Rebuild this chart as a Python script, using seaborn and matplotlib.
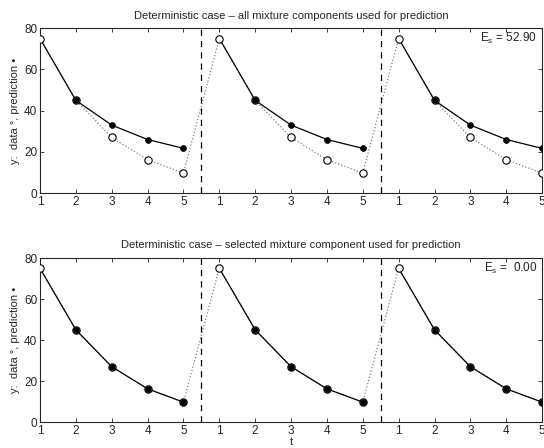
import numpy as np
import pandas as pd
import matplotlib
matplotlib.use("Agg")
import matplotlib.pyplot as plt
import seaborn as sns

# --- values ---
t_labels = [1, 2, 3, 4, 5]
n_segments = 3
data_y = [75, 45, 27, 16.2, 9.7]            # observed data (open circles)
pred_all = [75, 45, 33, 26, 21.7]           # all mixture components (t=1 starts at data)
pred_sel = [75, 45, 27, 16.2, 9.7]          # selected mixture component
titles = ["Deterministic case \u2013 all mixture components used for prediction",
          "Deterministic case \u2013 selected mixture component used for prediction"]
es_texts = ["$\\mathregular{E_s}$ = 52.90", "$\\mathregular{E_s}$ =  0.00"]
y_ticks = [0, 20, 40, 60, 80]

sns.set_style("ticks")
plt.rcParams["font.family"] = ["Liberation Sans", "DejaVu Sans"]
plt.rcParams["xtick.direction"] = "in"
plt.rcParams["ytick.direction"] = "in"


def build_frames(pred):
    rows_d, rows_p = [], []
    for s in range(n_segments):
        for i, t in enumerate(t_labels):
            x = s * len(t_labels) + t
            rows_d.append({"x": x, "y": data_y[i], "seg": s})
            rows_p.append({"x": x, "y": pred[i], "seg": s, "t": t})
    return pd.DataFrame(rows_d), pd.DataFrame(rows_p)


fig = plt.figure(figsize=(5.44, 4.48), dpi=100)
axes = [fig.add_axes([0.0735, 0.569, 0.923, 0.368]),
        fig.add_axes([0.0735, 0.058, 0.923, 0.366])]

for k, (ax, pred) in enumerate(zip(axes, [pred_all, pred_sel])):
    df_d, df_p = build_frames(pred)
    # dotted data line across all segments
    sns.lineplot(data=df_d, x="x", y="y", ax=ax, color="0.5", linestyle=":",
                 linewidth=0.9, estimator=None, sort=False)
    # solid prediction line within each segment
    sns.lineplot(data=df_p, x="x", y="y", units="seg", estimator=None, ax=ax,
                 color="black", linewidth=0.9, sort=False)
    # data open circles
    sns.scatterplot(data=df_d, x="x", y="y", ax=ax, marker="o", s=28,
                    facecolor="white", edgecolor="black", linewidth=0.8, zorder=3)
    # prediction dots (t >= 2)
    sns.scatterplot(data=df_p[df_p["t"] > 1], x="x", y="y", ax=ax, marker="o",
                    s=18, color="black", edgecolor="black", linewidth=0.5, zorder=4)

    for xv in [5.5, 10.5]:
        ax.axvline(xv, color="black", linestyle=(0, (5, 4)), linewidth=0.9)

    n = n_segments * len(t_labels)
    ax.set_xlim(1, n)
    ax.set_ylim(0, 80)
    ax.set_xticks(np.arange(1, n + 1))
    ax.set_xticklabels(t_labels * n_segments)
    ax.set_yticks(y_ticks)
    ax.tick_params(top=True, right=True, labelsize=8.5, length=3, width=0.6, pad=2)
    for sp in ax.spines.values():
        sp.set_linewidth(0.8)
    ax.set_title(titles[k], fontsize=8, pad=7)
    ax.set_ylabel("y:  data \u00b0, prediction \u2022", fontsize=8, labelpad=3)
    ax.set_xlabel("t" if k == 1 else "", fontsize=8, labelpad=0)
    ax.text(0.99, 0.985, es_texts[k], transform=ax.transAxes, ha="right",
            va="top", fontsize=8.5)

fig.savefig("out.png", dpi=100)
